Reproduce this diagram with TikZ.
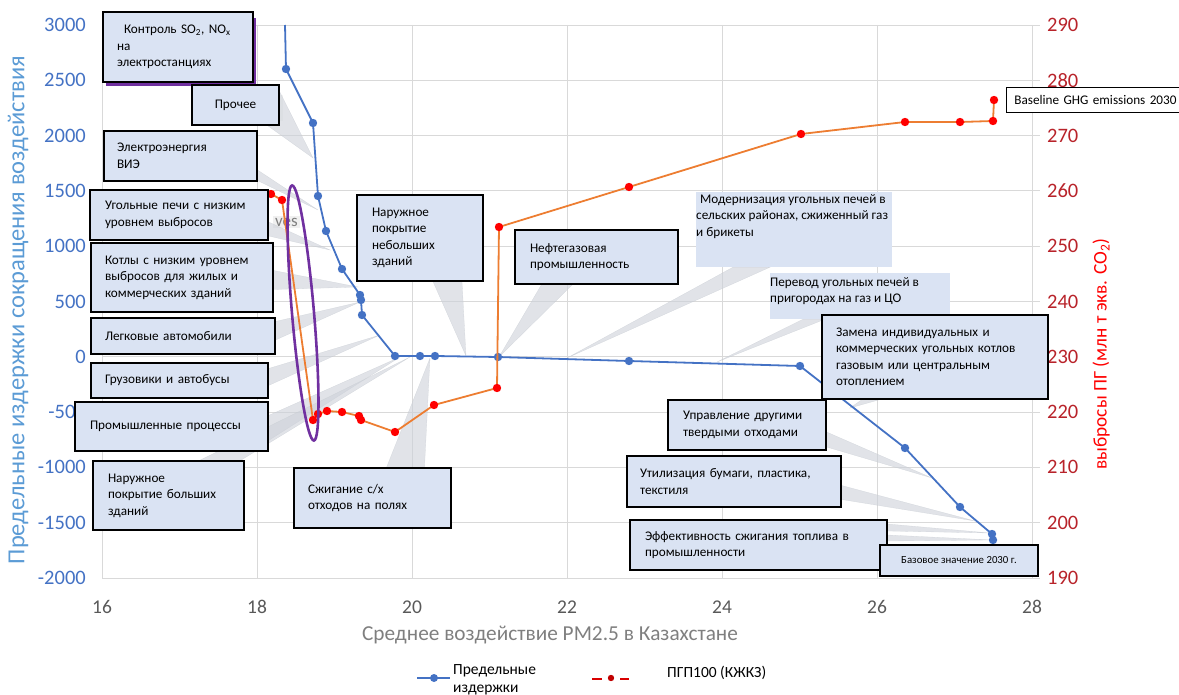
\documentclass[tikz,border=0pt]{standalone}
\usepackage{fontspec}
\setmainfont{Carlito}
\usetikzlibrary{calc}
\definecolor{bluec}{HTML}{4472C4}
\definecolor{orangec}{HTML}{ED7D31}
\definecolor{dotred}{HTML}{FF0000}
\definecolor{darkred}{HTML}{C00000}
\definecolor{boxfill}{HTML}{DAE3F3}
\definecolor{wedgec}{HTML}{CDD1D9}
\definecolor{purplec}{HTML}{7030A0}
\definecolor{gridc}{HTML}{D9D9D9}
\definecolor{tickblue}{HTML}{4472C4}
\definecolor{tickred}{HTML}{B8232A}
\definecolor{titleblue}{HTML}{5B9BD5}
\definecolor{titlegray}{HTML}{7F7F7F}
\definecolor{tickgray}{HTML}{595959}
\newcommand{\calfont}{\fontsize{13.2}{16.5}\selectfont}
\pgfdeclarelayer{gridlayer}
\pgfdeclarelayer{wedgelayer}
\pgfdeclarelayer{serieslayer}
\pgfsetlayers{gridlayer,wedgelayer,serieslayer,main}
\tikzset{
  calloutbox/.style={draw=black, line width=1.1pt, fill=boxfill, inner sep=0pt, align=left, font=\calfont},
  plainbox/.style={fill=boxfill, inner sep=0pt},
  boxtext/.style={inner sep=0pt, align=left, font=\calfont},
  wedge/.style={fill=wedgec, draw=wedgec!90!gray, line width=.3pt, opacity=.6},
  gridline/.style={draw=gridc, line width=.9pt},
  blueline/.style={draw=bluec, line width=1.8pt, line join=round},
  orangeline/.style={draw=orangec, line width=1.8pt, line join=round},
  lefttick/.style={anchor=east, inner sep=0pt, text=tickblue, font=\fontsize{20.5}{24}\selectfont},
  righttick/.style={anchor=west, inner sep=0pt, text=tickred, font=\fontsize{20.5}{24}\selectfont},
  xtick/.style={inner sep=0pt, text=tickgray, font=\fontsize{19.5}{22}\selectfont},
  legendtext/.style={inner sep=0pt, align=left, font=\fontsize{15.5}{18}\selectfont}
}

\begin{document}
\begin{tikzpicture}[x=1pt,y=-1pt]
\useasboundingbox (0,0) rectangle (1179,695);

\begin{pgfonlayer}{gridlayer}
  \foreach \i in {0,...,10} {
    \draw[gridline] (102,{25+\i*55.3}) -- (1040,{25+\i*55.3});
  }
  \foreach \i in {0,...,6} {
    \draw[gridline] ({102+\i*155},25) -- ({102+\i*155},578);
  }
\end{pgfonlayer}

\foreach \v [count=\i from 0] in {3000,2500,2000,1500,1000,500,0,-500,-1000,-1500,-2000}
  \node[lefttick] (ly\i) at (86,{25+\i*55.3}) {\v};
\foreach \v [count=\i from 0] in {290,280,270,260,250,240,230,220,210,200,190}
  \node[righttick] (ry\i) at (1047,{25+\i*55.3}) {\v};
\foreach \v [count=\i from 0] in {16,18,20,22,24,26,28}
  \node[xtick] (tx\i) at ({102+\i*155},607) {\v};

\node[rotate=90, text=titleblue, font=\fontsize{24.5}{28}\selectfont] (ytitle) at (18,310) {Предельные издержки сокращения воздействия};
\node[rotate=90, text=dotred, font=\fontsize{19.3}{22}\selectfont] (y2title) at (1101,354) {выбросы ПГ (млн т экв. CO\textsubscript{2})};
\node[text=titlegray, font=\fontsize{21.3}{24}\selectfont] (xtitle) at (550,635) {Среднее воздействие PM2.5 в Казахстане};

\begin{pgfonlayer}{serieslayer}
  \draw[blueline] plot coordinates {(285,25) (286,69) (313,123) (318,196) (326,231) (342,269) (360,295) (361,300) (362,315) (395,356) (420,356) (435,356) (498,357) (629,361) (800,366) (905,448) (960,507) (992,534) (993,540)};
  \foreach \px/\py in {286/69,313/123,318/196,326/231,342/269,360/295,361/300,362/315,395/356,420/356,435/356,498/357,629/361,800/366,905/448,960/507,992/534,993/540}
    \fill[bluec] (\px,\py) circle (4.2pt);
  \draw[orangeline] plot coordinates {(271,194) (282,200) (313,420) (318,414) (327,411) (342,412) (359,416) (361,420) (395,432) (434,405) (497,388) (499,227) (629,187) (801,134) (905,122) (960,122) (993,121) (994,100)};
  \foreach \px/\py in {271/194,282/200,313/420,318/414,327/411,342/412,359/416,361/420,395/432,434/405,497/388,499/227,629/187,801/134,905/122,960/122,993/121,994/100}
    \fill[dotred] (\px,\py) circle (4.2pt);
  \begin{scope}[shift={(303,313)}, rotate=4.9]
    \draw[purplec, line width=2.6pt] (0,0) ellipse [x radius=11pt, y radius=128pt];
  \end{scope}
\end{pgfonlayer}

\fill[purplec] (106,18) rectangle (256,86);
\node[calloutbox, minimum width=150pt, minimum height=70pt, text width=122pt] (kontrol) at (178,47) {\hspace*{7pt}Контроль SO\textsubscript{2}, NO\textsubscript{x}\\на\\электростанциях};
\node[calloutbox, minimum width=87pt, minimum height=40pt, align=center] (prochee) at (235.5,105) {Прочее};
\node[calloutbox, minimum width=153pt, minimum height=50pt, text width=127pt] (vie) at (180.5,156) {Электроэнергия\\ВИЭ};
\node[calloutbox, minimum width=178pt, minimum height=50pt, text width=148pt] (ugol) at (179,215) {Угольные печи с низким\\уровнем выбросов};
\node[calloutbox, minimum width=182pt, minimum height=69pt, text width=154pt] (kotly) at (182,277.5) {Котлы с низким уровнем\\выбросов для жилых и\\коммерческих зданий};
\node[calloutbox, minimum width=184pt, minimum height=36pt, text width=156pt] (legk) at (183,336) {Легковые автомобили};
\node[calloutbox, minimum width=177pt, minimum height=35pt, text width=149pt] (gruz) at (179.5,380.5) {Грузовики и автобусы};
\node[calloutbox, minimum width=193pt, minimum height=49pt, text width=163pt] (prom) at (171.5,426.5) {Промышленные процессы};
\node[calloutbox, minimum width=151pt, minimum height=69pt, text width=121pt] (narb) at (168.5,495.5) {Наружное\\покрытие больших\\зданий};
\node[calloutbox, minimum width=157pt, minimum height=60pt, text width=129pt] (szhig) at (372.5,498) {Сжигание с/х\\отходов на полях};
\node[calloutbox, minimum width=126pt, minimum height=86pt, text width=96pt] (narm) at (420,238) {Наружное\\покрытие\\небольших\\зданий};
\node[calloutbox, minimum width=163pt, minimum height=54pt, text width=133pt] (neft) at (596.5,257) {Нефтегазовая\\промышленность};
\node[plainbox, minimum width=196pt, minimum height=75pt] (modern) at (794,229.5) {};
\node[boxtext, anchor=north west] (modern text) at (696,194) {\hspace*{4pt}Модернизация угольных печей в\\сельских районах, сжиженный газ\\и брикеты};
\node[plainbox, minimum width=180pt, minimum height=46pt] (perevod) at (860,296) {};
\node[boxtext, anchor=north west] (perevod text) at (770,277) {Перевод угольных печей в\\пригородах на газ и ЦО};
\node[calloutbox, minimum width=226pt, minimum height=84pt, text width=198pt] (zamena) at (935,357) {Замена индивидуальных и\\коммерческих угольных котлов\\газовым или центральным\\отоплением};
\node[calloutbox, minimum width=158pt, minimum height=50pt, text width=128pt] (upr) at (747,425) {Управление другими\\твердыми отходами};
\node[calloutbox, minimum width=214pt, minimum height=51pt, text width=188pt] (util) at (734,481.5) {Утилизация бумаги, пластика,\\текстиля};
\node[calloutbox, minimum width=257pt, minimum height=50pt, text width=227pt] (eff) at (758.5,545) {Эффективность сжигания топлива в\\промышленности};
\node[calloutbox, minimum width=158pt, minimum height=31pt, align=center, font=\fontsize{10.8}{12}\selectfont] (baz) at (959,560.5) {Базовое значение 2030 г.};
\node[draw=black, line width=.8pt, fill=white, anchor=west, inner xsep=8pt, minimum height=25pt, text width=165pt, align=left, font=\fontsize{13.2}{15}\selectfont] (baseline) at (1006,99.5) {Baseline GHG emissions 2030};

\begin{pgfonlayer}{wedgelayer}
  \fill[gray!9] (195,95) rectangle (283,121);
  \node[fill=gray!12, anchor=east, inner sep=2pt, text=titlegray, font=\fontsize{17}{20}\selectfont] (ves) at (300,222) {ves};
  \coordinate (tprochee) at (313,158);
  \coordinate (tvie) at (318,210);
  \coordinate (tugol) at (330,250);
  \coordinate (tkotly) at (358,287);
  \coordinate (tlegk) at (360,302);
  \coordinate (tgruz) at (380,335);
  \coordinate (tprom) at (400,357);
  \coordinate (tnarb) at (410,357);
  \coordinate (tszhig) at (430,358);
  \coordinate (tnarm) at (466,356);
  \coordinate (tneft) at (499,357);
  \coordinate (tmodern) at (567,358);
  \coordinate (tperevod) at (717,362);
  \coordinate (tzamena) at (850,408);
  \coordinate (tupr) at (932,478);
  \coordinate (tutil) at (975,521);
  \coordinate (teff) at (990,533);
  \coordinate (teffb) at (993,540);
  \draw[wedge] ($(prochee.north east)+(0,7)$) -- (tprochee) -- ($(prochee.south east)+(-12,0)$) -- cycle;
  \draw[wedge] ($(vie.east)+(0,14)$) -- (tvie) -- ($(vie.south east)+(0,-1)$) -- cycle;
  \draw[wedge] ($(ugol.east)+(0,7)$) -- (tugol) -- ($(ugol.east)+(0,21)$) -- cycle;
  \draw[wedge] ($(kotly.east)+(0,-7)$) -- (tkotly) -- ($(kotly.east)+(0,12)$) -- cycle;
  \draw[wedge] ($(legk.north east)+(0,4)$) -- (tlegk) -- ($(legk.east)+(0,4)$) -- cycle;
  \draw[wedge] ($(gruz.east)+(0,-12)$) -- (tgruz) -- ($(gruz.east)+(0,5)$) -- cycle;
  \draw[wedge] ($(prom.east)+(0,-11)$) -- (tprom) -- ($(prom.east)+(0,14)$) -- cycle;
  \draw[wedge] ($(narb.north)+(31,0)$) -- (tnarb) -- ($(narb.north east)+(-4,0)$) -- cycle;
  \draw[wedge] ($(szhig.north)+(14,0)$) -- (tszhig) -- ($(szhig.north)+(52,0)$) -- cycle;
  \draw[wedge] ($(narm.south)+(13,0)$) -- (tnarm) -- ($(narm.south)+(42,0)$) -- cycle;
  \draw[wedge] ($(neft.south)+(-55,0)$) -- (tneft) -- ($(neft.south)+(-24,0)$) -- cycle;
  \draw[wedge] ($(modern.south)+(-61,0)$) -- (tmodern) -- ($(modern.south)+(-24,0)$) -- cycle;
  \draw[wedge] ($(perevod.south)+(-57,0)$) -- (tperevod) -- ($(perevod.south)+(-35,0)$) -- cycle;
  \draw[wedge] ($(zamena.south)+(-73,0)$) -- (tzamena) -- ($(zamena.south)+(-55,0)$) -- cycle;
  \draw[wedge] ($(upr.east)+(0,7)$) -- (tupr) -- ($(upr.east)+(0,22)$) -- cycle;
  \draw[wedge] ($(util.east)+(0,4)$) -- (tutil) -- ($(util.east)+(0,18)$) -- cycle;
  \draw[wedge] ($(eff.east)+(0,-21)$) -- (teff) -- ($(eff.east)+(0,-14)$) -- cycle;
  \draw[wedge] ($(eff.east)+(0,-10)$) -- (teffb) -- ($(eff.east)+(0,-4)$) -- cycle;
\end{pgfonlayer}

\coordinate (lb1) at (417,678);
\coordinate (lb2) at (450,678);
\draw[blueline] (lb1) -- (lb2);
\fill[bluec] (434,678) circle (4pt);
\node[legendtext, anchor=north west] (leg1) at (453,664) {Предельные\\издержки};
\coordinate (lr1) at (592,679);
\coordinate (lr2) at (602,679);
\coordinate (lr3) at (620,679);
\coordinate (lr4) at (629,679);
\draw[dotred!85!black, line width=1.8pt] (lr1) -- (lr2) (lr3) -- (lr4);
\fill[darkred] (611,678) circle (3.2pt);
\node[legendtext, anchor=west] (leg2) at (667,673) {ПГП100 (КЖКЗ)};
\end{tikzpicture}
\end{document}
